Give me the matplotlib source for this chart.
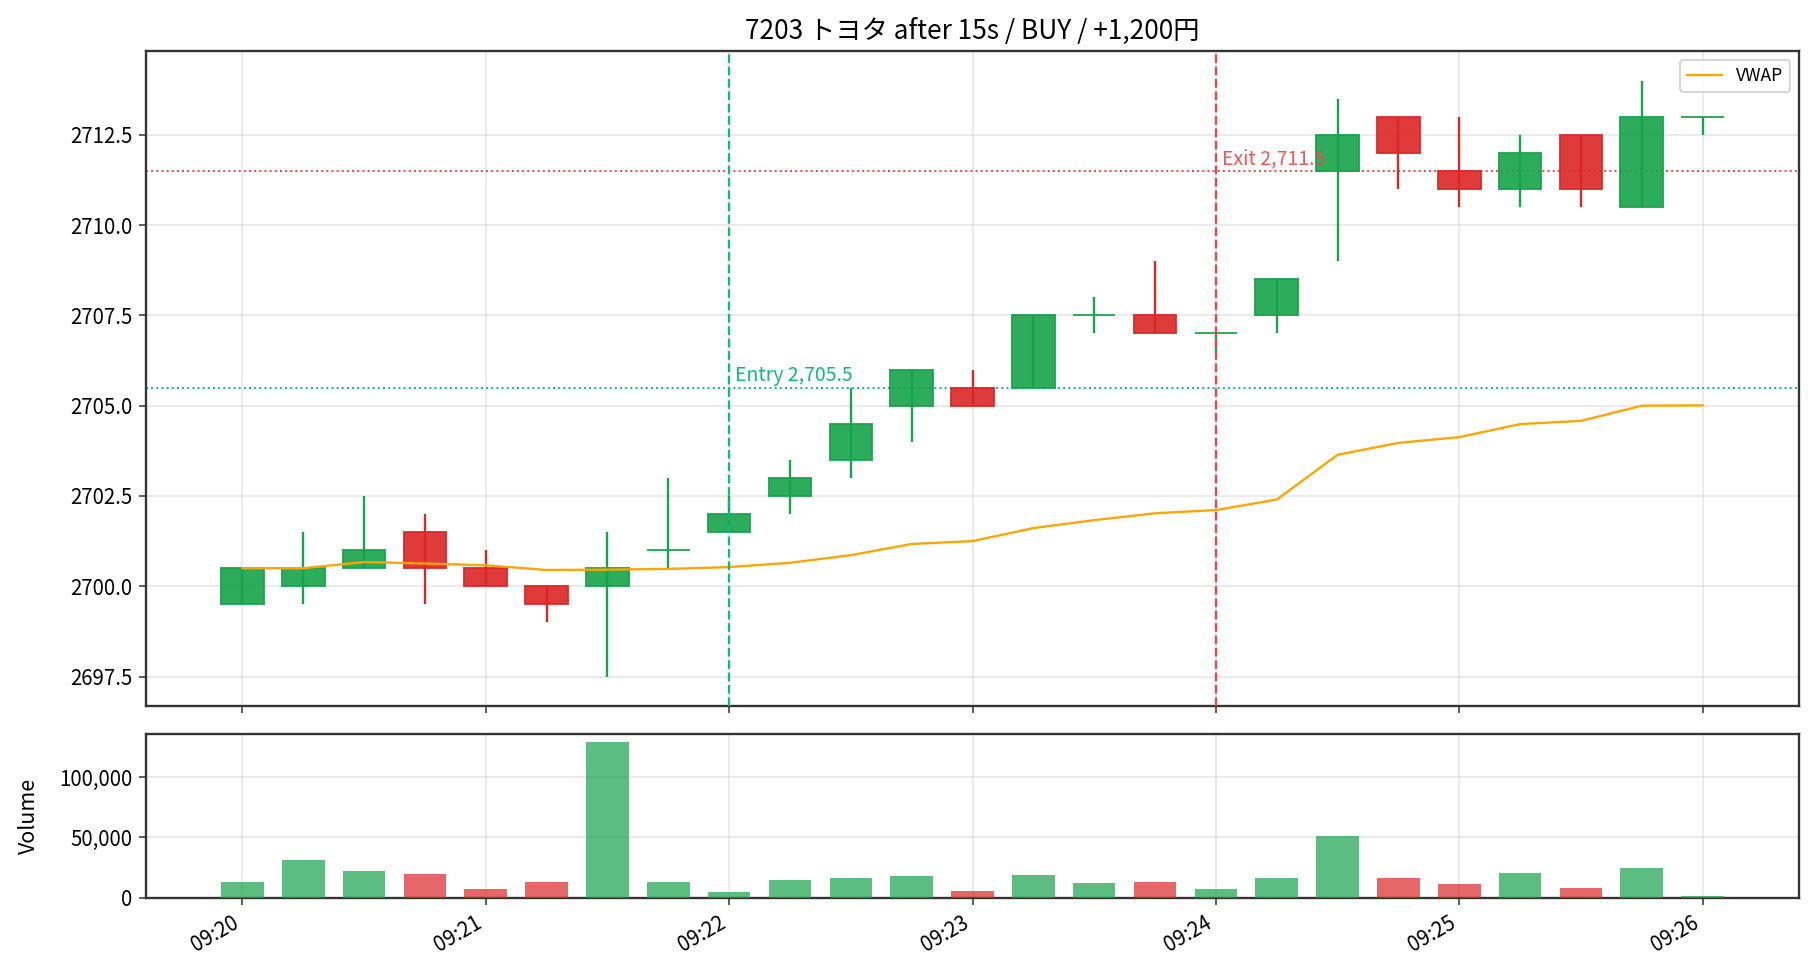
import matplotlib
matplotlib.use("Agg")
import matplotlib.pyplot as plt
import matplotlib.dates as mdates
import matplotlib.ticker as mticker
import pandas as pd
import numpy as np

plt.rcParams['font.family'] = ['Noto Sans CJK JP', 'DejaVu Sans']

# ---- data (15-second candles) ----
times = pd.date_range("2024-01-01 09:20:00", "2024-01-01 09:26:00", freq="15s")
opens  = [2699.5, 2700.0, 2700.5, 2701.5, 2700.5, 2700.0, 2700.0, 2701.0, 2701.5, 2702.5,
          2703.5, 2705.0, 2705.5, 2705.5, 2707.5, 2707.5, 2707.0, 2707.5, 2711.5, 2713.0,
          2711.5, 2711.0, 2712.5, 2710.5, 2713.0]
highs  = [2700.5, 2701.5, 2702.5, 2702.0, 2701.0, 2700.0, 2701.5, 2703.0, 2702.5, 2703.5,
          2705.5, 2706.0, 2706.0, 2707.5, 2708.0, 2709.0, 2707.0, 2708.5, 2713.5, 2713.0,
          2713.0, 2712.5, 2712.5, 2714.0, 2713.0]
lows   = [2699.5, 2699.5, 2700.5, 2699.5, 2700.0, 2699.0, 2697.5, 2700.5, 2701.5, 2702.0,
          2703.0, 2704.0, 2705.0, 2705.5, 2707.0, 2707.0, 2706.5, 2707.0, 2709.0, 2711.0,
          2710.5, 2710.5, 2710.5, 2710.5, 2712.5]
closes = [2700.5, 2700.5, 2701.0, 2700.5, 2700.0, 2699.5, 2700.5, 2701.0, 2702.0, 2703.0,
          2704.5, 2706.0, 2705.0, 2707.5, 2707.5, 2707.0, 2707.0, 2708.5, 2712.5, 2712.0,
          2711.0, 2712.0, 2711.0, 2713.0, 2713.0]
volumes = [13000, 31000, 22700, 19500, 7100, 12900, 129000, 12900, 4700, 14500,
           16200, 17800, 5500, 18600, 12100, 12900, 7100, 16200, 51500, 16200,
           11200, 20300, 8000, 24400, 1400]
vwap = [2700.50, 2700.50, 2700.67, 2700.63, 2700.58, 2700.45, 2700.46, 2700.48, 2700.53, 2700.65,
        2700.86, 2701.17, 2701.25, 2701.61, 2701.83, 2702.02, 2702.11, 2702.40, 2703.64, 2703.97,
        2704.13, 2704.49, 2704.58, 2705.00, 2705.01]

entry_time = pd.Timestamp("2024-01-01 09:22:00")
exit_time = pd.Timestamp("2024-01-01 09:24:00")
entry_price = 2705.5
exit_price = 2711.5
title = "7203 トヨタ after 15s / BUY / +1,200円"

GREEN = "#16a34a"
RED = "#dc2626"
ENTRY_C = "#10b981"
EXIT_C = "#ef4444"

fig, (ax, axv) = plt.subplots(2, 1, figsize=(13, 7), dpi=140, sharex=True,
                              gridspec_kw={"height_ratios": [4, 1]})
fig.subplots_adjust(left=0.0802, right=0.9885, top=0.948, bottom=0.0837, hspace=0.068)

x = mdates.date2num(times)
w = 15 / 86400 * 0.7
up = [c >= o for o, c in zip(opens, closes)]
cols = [GREEN if u else RED for u in up]

# wicks
ax.vlines(x, lows, highs, colors=cols, linewidth=1.2, zorder=2)
# bodies
bottoms = [min(o, c) for o, c in zip(opens, closes)]
heights = [abs(c - o) for o, c in zip(opens, closes)]
ax.bar(x, heights, width=w, bottom=bottoms, color=cols, edgecolor=cols,
       linewidth=1.0, alpha=0.9, zorder=3)

ax.plot(x, vwap, color="orange", linewidth=1.2, label="VWAP", zorder=4)

ax.axvline(mdates.date2num(entry_time), color=ENTRY_C, linestyle="--", linewidth=1.2, zorder=5)
ax.axvline(mdates.date2num(exit_time), color=EXIT_C, linestyle="--", linewidth=1.2, zorder=5)
ax.axhline(entry_price, color=ENTRY_C, linestyle=":", linewidth=1.0, zorder=1)
ax.axhline(exit_price, color=EXIT_C, linestyle=":", linewidth=1.0, zorder=1)
ax.annotate(f"Entry {entry_price:,.1f}", (mdates.date2num(entry_time), entry_price),
            xytext=(3, 1), textcoords="offset points", color=ENTRY_C, fontsize=10,
            ha="left", va="bottom", zorder=6)
ax.annotate(f"Exit {exit_price:,.1f}", (mdates.date2num(exit_time), exit_price),
            xytext=(3, 1), textcoords="offset points", color=EXIT_C, fontsize=10,
            ha="left", va="bottom", alpha=0.9, zorder=6)

ax.set_title(title, fontsize=13.5)
ax.yaxis.set_major_locator(mticker.MultipleLocator(2.5))
ax.yaxis.set_major_formatter(mticker.FormatStrFormatter("%.1f"))
ax.grid(True, color="#cccccc", alpha=0.5, linewidth=0.8)
ax.set_axisbelow(True)
ax.legend(loc="upper right", fontsize=9)

# volume
vcols = [GREEN if u else RED for u in up]
axv.bar(x, volumes, width=w, color=vcols, alpha=0.7, zorder=3)
axv.set_ylabel("Volume", fontsize=11, labelpad=10)
axv.yaxis.set_major_formatter(mticker.FuncFormatter(lambda v, p: f"{v:,.0f}"))
axv.yaxis.set_major_locator(mticker.MultipleLocator(50000))
axv.grid(True, color="#cccccc", alpha=0.5, linewidth=0.8)
axv.set_axisbelow(True)

axv.xaxis.set_major_locator(mdates.MinuteLocator())
axv.xaxis.set_major_formatter(mdates.DateFormatter("%H:%M"))
for a in (ax, axv):
    for s in a.spines.values():
        s.set_color("#333333")
        s.set_linewidth(1.2)
    a.tick_params(labelsize=10.5, color="#333333")
plt.setp(axv.get_xticklabels(), rotation=30, ha="right")
plt.setp(ax.get_xticklabels(), visible=False)

fig.savefig("out.png", dpi=140)
